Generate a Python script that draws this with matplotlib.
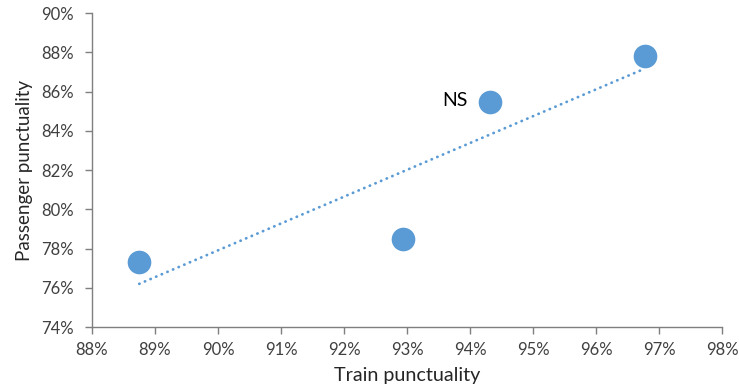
import numpy as np
import matplotlib
matplotlib.use('Agg')
from matplotlib import pyplot as plt
from matplotlib.ticker import FuncFormatter, MultipleLocator

# data (percent)
train = [88.75, 92.93, 94.32, 96.77]
passenger = [77.33, 78.49, 85.48, 87.79]
labels = ['', '', 'NS', '']

blue = '#5B9BD5'
grey = '#404040'

plt.rcParams['font.family'] = ['Lato', 'DejaVu Sans']

fig = plt.figure(figsize=(7.39, 3.90), dpi=100)
ax = fig.add_axes([0.1245, 0.1615, 0.8525, 0.805])

ax.scatter(train, passenger, s=290, color=blue, zorder=3, linewidths=0)

# linear trendline over the data range
slope, icpt = np.polyfit(train, passenger, 1)
xs = np.array([min(train), max(train)])
ax.plot(xs, slope*xs + icpt, color=blue, ls=(0, (0.1, 2.1)), lw=2,
        dash_capstyle='round', zorder=2)

for x, y, lab in zip(train, passenger, labels):
    if lab:
        ax.annotate(lab, (x, y), xytext=(-16, 1), textcoords='offset points',
                    ha='right', va='center', fontsize=14, color='black')

ax.set_xlim(88, 98)
ax.set_ylim(74, 90)
ax.xaxis.set_major_locator(MultipleLocator(1))
ax.yaxis.set_major_locator(MultipleLocator(2))
pct = FuncFormatter(lambda v, p: '{:.0f}%'.format(v))
ax.xaxis.set_major_formatter(pct)
ax.yaxis.set_major_formatter(pct)

for side in ('top', 'right'):
    ax.spines[side].set_visible(False)
for side in ('left', 'bottom'):
    ax.spines[side].set_color('#7F7F7F')
    ax.spines[side].set_linewidth(1)
ax.tick_params(direction='out', length=5, width=1, color='#7F7F7F',
               labelcolor=grey, labelsize=12)
ax.tick_params(axis='y', pad=8)
ax.tick_params(axis='x', pad=6)

ax.set_xlabel('Train punctuality', fontsize=14.2, color='#262626', labelpad=6)
ax.set_ylabel('Passenger punctuality', fontsize=13.5, color='#262626', labelpad=6)

fig.savefig('out.png', dpi=100)
